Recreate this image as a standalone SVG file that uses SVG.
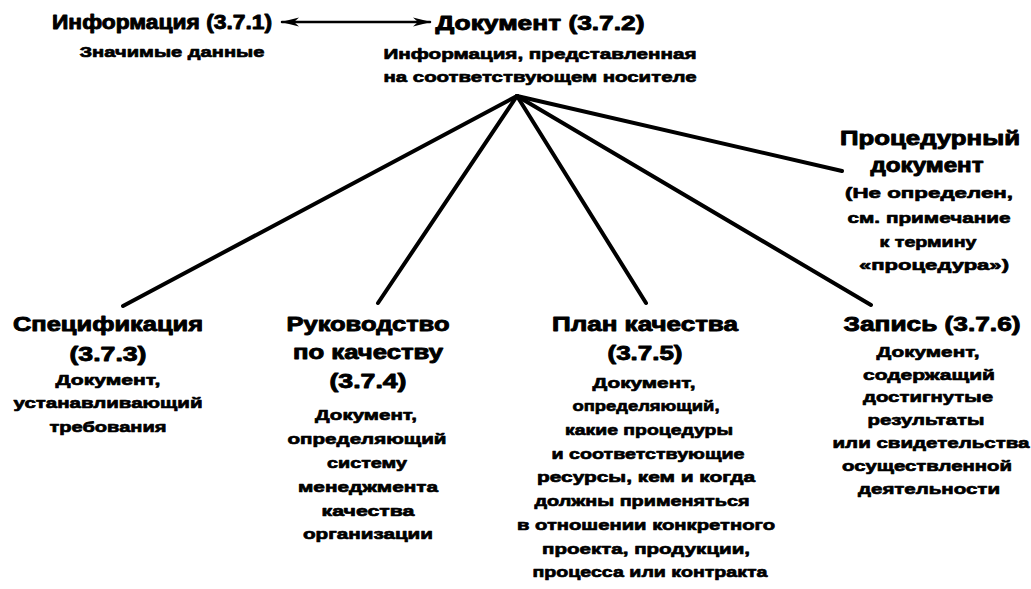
<svg xmlns="http://www.w3.org/2000/svg" width="1031" height="589" viewBox="0 0 1031 589">
<defs>
<style>
text{font-family:"Liberation Sans",Arial,sans-serif;font-weight:bold;fill:#000;text-anchor:middle;stroke:#000;stroke-linejoin:round}
.t{font-size:20px;stroke-width:0.9px}
.s{font-size:15.5px;stroke-width:0.7px}
.c line{stroke:#000;stroke-width:4;stroke-linecap:round}
</style>
<marker id="ah" viewBox="0 0 18 10" refX="17" refY="5" markerWidth="18" markerHeight="10" markerUnits="userSpaceOnUse" orient="auto-start-reverse">
<path d="M0,0.5 L18,5 L0,9.5 L5,5 Z" fill="#000"/>
</marker>
</defs>
<rect width="1031" height="589" fill="#fff"/>
<g class="c">
<line x1="282" y1="22" x2="430" y2="22" style="stroke-width:2.5" marker-start="url(#ah)" marker-end="url(#ah)"/>
<line x1="517" y1="96" x2="123" y2="306"/>
<line x1="517" y1="96" x2="378" y2="303"/>
<line x1="517" y1="96" x2="646" y2="303"/>
<line x1="517" y1="96" x2="871" y2="305"/>
<line x1="517" y1="96" x2="842" y2="171"/>
</g>
<g id="info">
<text class="t" x="162" y="29" textLength="220" lengthAdjust="spacingAndGlyphs">Информация (3.7.1)</text>
<text class="s" x="172" y="57" textLength="185" lengthAdjust="spacingAndGlyphs">Значимые данные</text>
</g>
<g id="doc">
<text class="t" x="540" y="30" textLength="209" lengthAdjust="spacingAndGlyphs">Документ (3.7.2)</text>
<text class="s" x="540" y="59" textLength="313" lengthAdjust="spacingAndGlyphs">Информация, представленная</text>
<text class="s" x="540" y="82" textLength="313" lengthAdjust="spacingAndGlyphs">на соответствующем носителе</text>
</g>
<g id="proc">
<text class="t" x="930" y="145" textLength="180" lengthAdjust="spacingAndGlyphs">Процедурный</text>
<text class="t" x="927" y="172" textLength="113" lengthAdjust="spacingAndGlyphs">документ</text>
<text class="s" x="929" y="198" textLength="168" lengthAdjust="spacingAndGlyphs">(Не определен,</text>
<text class="s" x="929" y="223" textLength="163" lengthAdjust="spacingAndGlyphs">см. примечание</text>
<text class="s" x="928" y="247" textLength="97" lengthAdjust="spacingAndGlyphs">к термину</text>
<text class="s" x="934" y="270" textLength="150" lengthAdjust="spacingAndGlyphs">«процедура»)</text>
</g>
<g id="spec">
<text class="t" x="108" y="331" textLength="190" lengthAdjust="spacingAndGlyphs">Спецификация</text>
<text class="t" x="108" y="361" textLength="77" lengthAdjust="spacingAndGlyphs">(3.7.3)</text>
<text class="s" x="108" y="385" textLength="105" lengthAdjust="spacingAndGlyphs">Документ,</text>
<text class="s" x="108" y="408" textLength="189" lengthAdjust="spacingAndGlyphs">устанавливающий</text>
<text class="s" x="108" y="432" textLength="117" lengthAdjust="spacingAndGlyphs">требования</text>
</g>
<g id="manual">
<text class="t" x="368" y="331" textLength="163" lengthAdjust="spacingAndGlyphs">Руководство</text>
<text class="t" x="368" y="359" textLength="150" lengthAdjust="spacingAndGlyphs">по качеству</text>
<text class="t" x="368" y="388" textLength="77" lengthAdjust="spacingAndGlyphs">(3.7.4)</text>
<text class="s" x="366" y="420" textLength="102" lengthAdjust="spacingAndGlyphs">Документ,</text>
<text class="s" x="367" y="444" textLength="159" lengthAdjust="spacingAndGlyphs">определяющий</text>
<text class="s" x="367" y="468" textLength="80" lengthAdjust="spacingAndGlyphs">систему</text>
<text class="s" x="368" y="492" textLength="140" lengthAdjust="spacingAndGlyphs">менеджмента</text>
<text class="s" x="368" y="516" textLength="93" lengthAdjust="spacingAndGlyphs">качества</text>
<text class="s" x="368" y="539" textLength="130" lengthAdjust="spacingAndGlyphs">организации</text>
</g>
<g id="plan">
<text class="t" x="645" y="331" textLength="186" lengthAdjust="spacingAndGlyphs">План качества</text>
<text class="t" x="645" y="360" textLength="75" lengthAdjust="spacingAndGlyphs">(3.7.5)</text>
<text class="s" x="644" y="388" textLength="103" lengthAdjust="spacingAndGlyphs">Документ,</text>
<text class="s" x="646" y="411" textLength="147" lengthAdjust="spacingAndGlyphs">определяющий,</text>
<text class="s" x="649" y="435" textLength="168" lengthAdjust="spacingAndGlyphs">какие процедуры</text>
<text class="s" x="648" y="459" textLength="193" lengthAdjust="spacingAndGlyphs">и соответствующие</text>
<text class="s" x="646" y="482" textLength="218" lengthAdjust="spacingAndGlyphs">ресурсы, кем и когда</text>
<text class="s" x="642" y="506" textLength="215" lengthAdjust="spacingAndGlyphs">должны применяться</text>
<text class="s" x="646" y="530" textLength="258" lengthAdjust="spacingAndGlyphs">в отношении конкретного</text>
<text class="s" x="646" y="554" textLength="208" lengthAdjust="spacingAndGlyphs">проекта, продукции,</text>
<text class="s" x="650" y="577" textLength="235" lengthAdjust="spacingAndGlyphs">процесса или контракта</text>
</g>
<g id="record">
<text class="t" x="932" y="331" textLength="177" lengthAdjust="spacingAndGlyphs">Запись (3.7.6)</text>
<text class="s" x="928" y="357" textLength="103" lengthAdjust="spacingAndGlyphs">Документ,</text>
<text class="s" x="929" y="380" textLength="132" lengthAdjust="spacingAndGlyphs">содержащий</text>
<text class="s" x="928" y="402" textLength="130" lengthAdjust="spacingAndGlyphs">достигнутые</text>
<text class="s" x="926" y="425" textLength="117" lengthAdjust="spacingAndGlyphs">результаты</text>
<text class="s" x="931" y="448" textLength="197" lengthAdjust="spacingAndGlyphs">или свидетельства</text>
<text class="s" x="927" y="471" textLength="170" lengthAdjust="spacingAndGlyphs">осуществленной</text>
<text class="s" x="929" y="494" textLength="142" lengthAdjust="spacingAndGlyphs">деятельности</text>
</g>
</svg>
